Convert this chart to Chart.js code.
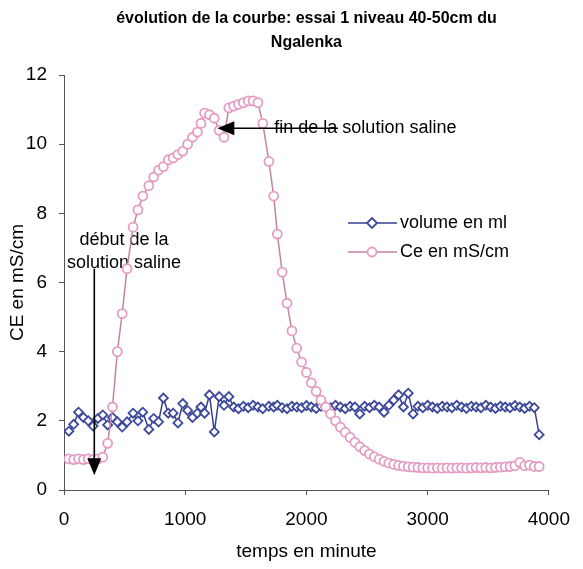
<!DOCTYPE html>
<html>
<head>
<meta charset="utf-8">
<script src="https://cdn.jsdelivr.net/npm/chart.js@4.4.1/dist/chart.umd.min.js"></script>
<style>
  html, body { margin: 0; padding: 0; background: #fff; }
</style>
</head>
<body>
<canvas id="chart" width="583" height="569"></canvas>
<script>
// temps de mesure (minutes)
const temps = [
    40, 80, 120, 160, 200, 240, 280, 320, 360, 400,
    440, 480, 520, 570, 610, 650, 700, 740, 780, 820,
    860, 900, 940, 980, 1020, 1060, 1100, 1130, 1160, 1200,
    1240, 1280, 1320, 1360, 1400, 1440, 1480, 1520, 1560, 1600,
    1640, 1690, 1730, 1760, 1800, 1840, 1880, 1920, 1960, 2000,
    2040, 2080, 2120, 2160, 2200, 2240, 2280, 2320, 2360, 2400,
    2440, 2480, 2520, 2560, 2600, 2640, 2680, 2720, 2760, 2800,
    2840, 2880, 2920, 2960, 3000, 3040, 3080, 3120, 3160, 3200,
    3240, 3280, 3320, 3360, 3400, 3440, 3480, 3520, 3560, 3600,
    3640, 3680, 3720, 3760, 3800, 3840, 3880, 3920
]

const volume = [
    1.7, 1.9, 2.25, 2.1, 2.0, 1.85, 2.07, 2.17, 1.88, 2.1,
    1.97, 1.82, 1.97, 2.22, 2.0, 2.25, 1.75, 2.07, 1.97, 2.66,
    2.22, 2.22, 1.94, 2.5, 2.3, 2.1, 2.22, 2.4, 2.22, 2.75,
    1.68, 2.7, 2.45, 2.7, 2.4, 2.35, 2.42, 2.38, 2.45, 2.4,
    2.35, 2.42, 2.4, 2.45, 2.38, 2.35, 2.42, 2.4, 2.38, 2.44,
    2.4, 2.36, 2.42, 2.4, 2.38, 2.45, 2.4, 2.35, 2.42, 2.4,
    2.2, 2.42, 2.38, 2.45, 2.4, 2.25, 2.45, 2.6, 2.75, 2.4,
    2.8, 2.2, 2.42, 2.38, 2.45, 2.4, 2.36, 2.42, 2.4, 2.38,
    2.45, 2.4, 2.36, 2.42, 2.4, 2.38, 2.45, 2.4, 2.36, 2.42,
    2.4, 2.38, 2.44, 2.4, 2.36, 2.42, 2.38, 1.6
]

const ce = [
    0.9, 0.88, 0.9, 0.88, 0.9, 0.88, 0.9, 0.95, 1.35, 2.4,
    4.0, 5.1, 6.4, 7.6, 8.1, 8.5, 8.8, 9.05, 9.25, 9.35,
    9.55, 9.6, 9.7, 9.8, 10.0, 10.2, 10.35, 10.6, 10.9, 10.85,
    10.75, 10.4, 10.2, 11.05, 11.1, 11.15, 11.2, 11.25, 11.25, 11.2,
    10.6, 9.5, 8.5, 7.4, 6.3, 5.4, 4.6, 4.1, 3.7, 3.4,
    3.1, 2.85, 2.6, 2.4, 2.2, 2.0, 1.82, 1.67, 1.52, 1.38,
    1.25, 1.14, 1.04, 0.96, 0.89, 0.83, 0.78, 0.74, 0.71, 0.69,
    0.67, 0.66, 0.65, 0.64, 0.64, 0.63, 0.64, 0.63, 0.64, 0.63,
    0.64, 0.64, 0.63, 0.64, 0.65, 0.64, 0.65, 0.64, 0.65, 0.66,
    0.67, 0.68, 0.7, 0.8, 0.7, 0.72, 0.68, 0.68
]

const xTicks = [0, 1000, 2000, 3000, 4000]
const yTicks = [0, 2, 4, 6, 8, 10, 12]

const titre = ['évolution de la courbe: essai 1 niveau 40-50cm du', 'Ngalenka']
const labels = ['volume en ml', 'Ce en mS/cm']

const NAVY = '#35418f'
const NAVY_PT = '#3d4a9c'
const PINK = '#c283a6'
const PINK_PT = '#e59cc2'
const FONT = '"Liberation Sans", Arial, sans-serif'

// flèches et textes, en unités des axes
const debut = { t: 250, haut: 6.4, bas: 0.43, texteT: 495, lignes: ['début de la', 'solution saline'], lignesV: [7.23, 6.56] }
const fin = { v: 10.46, depuis: 2260, vers: 1265, texteT: 1735, texte: 'fin de la solution saline' }

const toPoints = (ys) => temps.map((t, i) => ({ x: t, y: ys[i] }))

function arrowHead(ctx, x, y, dir) {
    // dir: 'down' or 'left'
    ctx.beginPath()
    if (dir === 'down') {
        ctx.moveTo(x, y)
        ctx.lineTo(x - 7, y - 17)
        ctx.lineTo(x + 7, y - 17)
    } else {
        ctx.moveTo(x, y)
        ctx.lineTo(x + 17, y - 7)
        ctx.lineTo(x + 17, y + 7)
    }
    ctx.closePath()
    ctx.fill()
}

const annotations = {
    id: 'annotations',
    beforeDatasetsDraw(chart) {
        const { ctx, scales: { x, y } } = chart
        ctx.save()
        ctx.fillStyle = '#000'
        ctx.font = '18px ' + FONT
        ctx.textBaseline = 'middle'
        ctx.textAlign = 'center'
        debut.lignes.forEach((l, i) => ctx.fillText(l, x.getPixelForValue(debut.texteT), y.getPixelForValue(debut.lignesV[i])))
        ctx.textAlign = 'left'
        ctx.fillText(fin.texte, x.getPixelForValue(fin.texteT), y.getPixelForValue(fin.v))
        ctx.restore()
    },
    afterDatasetsDraw(chart) {
        const { ctx, scales: { x, y } } = chart
        ctx.save()
        ctx.strokeStyle = '#000'
        ctx.fillStyle = '#000'
        ctx.lineWidth = 1.6

        const dx = x.getPixelForValue(debut.t)
        const dTop = y.getPixelForValue(debut.haut)
        const dBot = y.getPixelForValue(debut.bas)
        ctx.beginPath()
        ctx.moveTo(dx, dTop)
        ctx.lineTo(dx, dBot - 10)
        ctx.stroke()
        arrowHead(ctx, dx, dBot, 'down')

        const fy = y.getPixelForValue(fin.v)
        const fFrom = x.getPixelForValue(fin.depuis)
        const fTo = x.getPixelForValue(fin.vers)
        ctx.beginPath()
        ctx.moveTo(fFrom, fy)
        ctx.lineTo(fTo + 10, fy)
        ctx.stroke()
        arrowHead(ctx, fTo, fy, 'left')
        ctx.restore()
    },
    afterDraw(chart) {
        const { ctx, chartArea } = chart
        ctx.save()
        ctx.fillStyle = '#000'
        ctx.textBaseline = 'middle'

        // titre
        ctx.font = 'bold 16px ' + FONT
        ctx.textAlign = 'center'
        const cx = (chartArea.left + chartArea.right) / 2
        ctx.fillText(titre[0], cx, 19)
        ctx.fillText(titre[1], cx, 43)

        // légende dans la zone du graphique
        const lx = 348, ly = [223, 252]
        const styles = [
            { line: NAVY, pt: NAVY_PT, shape: 'diamond' },
            { line: PINK, pt: PINK_PT, shape: 'circle' },
        ]
        ctx.font = '18px ' + FONT
        ctx.textAlign = 'left'
        styles.forEach((s, i) => {
            const yy = ly[i]
            ctx.strokeStyle = s.line
            ctx.lineWidth = 1.5
            ctx.beginPath()
            ctx.moveTo(lx, yy)
            ctx.lineTo(lx + 49, yy)
            ctx.stroke()
            ctx.fillStyle = '#fff'
            ctx.strokeStyle = s.pt
            ctx.lineWidth = 1.8
            ctx.beginPath()
            if (s.shape === 'diamond') {
                ctx.moveTo(lx + 24, yy - 5)
                ctx.lineTo(lx + 29, yy)
                ctx.lineTo(lx + 24, yy + 5)
                ctx.lineTo(lx + 19, yy)
                ctx.closePath()
            } else {
                ctx.arc(lx + 24, yy, 4.5, 0, Math.PI * 2)
            }
            ctx.fill()
            ctx.stroke()
            ctx.fillStyle = '#000'
            ctx.fillText(labels[i], lx + 52, yy)
        })
        ctx.restore()
    }
}

new Chart(document.getElementById('chart'), {
    type: 'line',
    data: {
        datasets: [
            {
                label: labels[0],
                data: toPoints(volume),
                borderColor: NAVY,
                borderWidth: 1.5,
                pointStyle: 'rectRot',
                pointRadius: 4.5,
                pointBorderColor: NAVY_PT,
                pointBorderWidth: 1.8,
                pointBackgroundColor: '#fff',
                tension: 0,
            },
            {
                label: labels[1],
                data: toPoints(ce),
                borderColor: PINK,
                borderWidth: 1.5,
                pointStyle: 'circle',
                pointRadius: 4.5,
                pointBorderColor: PINK_PT,
                pointBorderWidth: 1.8,
                pointBackgroundColor: '#fff',
                tension: 0,
                order: -1,
            },
        ]
    },
    options: {
        responsive: false,
        animation: false,
        events: [],
        layout: { padding: { top: 75, right: 26, bottom: 0, left: 0 } },
        plugins: {
            legend: { display: false },
            title: { display: false },
            tooltip: { enabled: false },
        },
        scales: {
            x: {
                type: 'linear',
                min: 0,
                max: 4000,
                afterBuildTicks: (scale) => { scale.ticks = xTicks.map(v => ({ value: v })) },
                afterFit: (scale) => { scale.height = 79 },
                ticks: { color: '#000', font: { family: FONT, size: 19 }, padding: 13, maxRotation: 0, callback: (v) => String(v) },
                grid: { drawOnChartArea: false, tickLength: 5, color: '#555' },
                border: { color: '#555', width: 1 },
                title: { display: true, text: 'temps en minute', color: '#000', font: { family: FONT, size: 19 }, padding: { top: 0, bottom: 6 } },
            },
            y: {
                min: 0,
                max: 12,
                afterBuildTicks: (scale) => { scale.ticks = yTicks.map(v => ({ value: v })) },
                afterFit: (scale) => { scale.width = 64 },
                ticks: { color: '#000', font: { family: FONT, size: 19 }, padding: 12 },
                grid: { drawOnChartArea: false, tickLength: 5, color: '#555' },
                border: { color: '#555', width: 1 },
                title: { display: true, text: 'CE en mS/cm', color: '#000', font: { family: FONT, size: 19 }, padding: { top: 6, bottom: 0 } },
            },
        },
    },
    plugins: [annotations],
})
</script>
</body>
</html>
